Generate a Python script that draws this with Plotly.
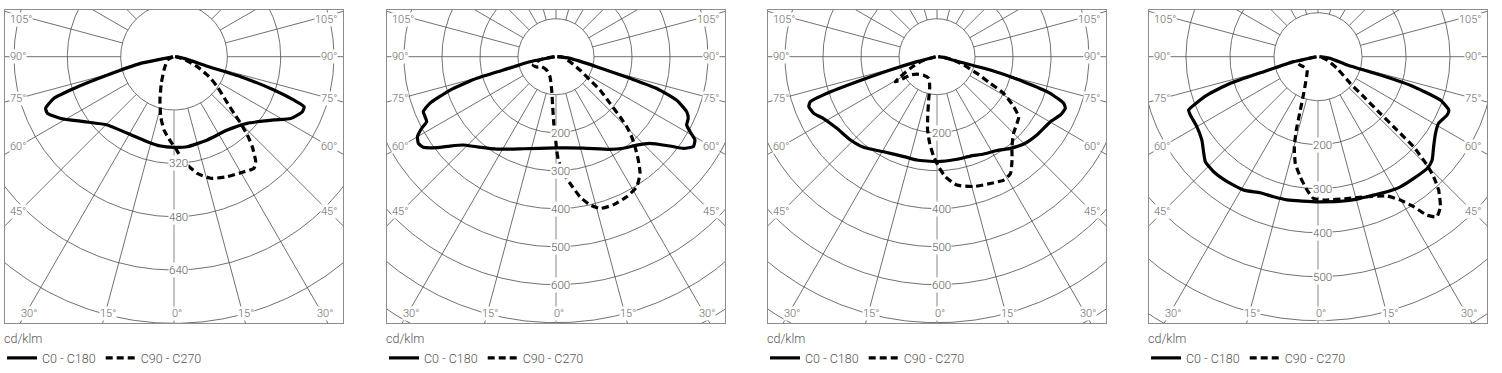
import numpy as np
import plotly.graph_objects as go

# ---------------- data (gamma in degrees from nadir, signed; intensity in cd/klm) -------------
P1_C0_GAMMA = [-90, -79, -78.7, -74.6, -72.4, -70.9, -68.1, -65.9, -61.4, -54.2, -44.3, -31.3, -17.4, -8.5, 0,
               8.4, 21.8, 36, 47.7, 57.7, 62.1, 66.8, 69, 70.1, 71.6, 73.3, 74, 80.5, 90]
P1_C0_I = [3, 51, 102, 207, 315, 381, 415, 416, 387, 333, 286, 269, 267, 271, 272,
           273, 269, 272, 297, 355, 396, 419, 418, 383, 316, 209, 104, 30, 3]
P1_C90_GAMMA = [-90, -63.4, -36.9, -25.4, -17.9, -12.5, -7.8, -2.2, 1, 3.8, 7, 11.3, 16.8, 24, 31.3, 35.6,
                37.9, 41, 43.1, 45, 46.6, 50, 55.3, 60.3, 66.8, 74, 90]
P1_C90_I = [3, 22, 50, 89, 137, 184, 222, 255, 275, 301, 327, 357, 381, 394, 404, 412,
            399, 358, 322, 283, 248, 202, 158, 121, 76, 36, 8]

P2_C0_GAMMA = [-90, -79.1, -75.8, -74.7, -72.5, -69.7, -67.5, -65.4, -63.3, -61.9, -60, -57.8, -55.7, -52.7,
               -49.9, -46.4, -41.4, -32.7, -19.5, 0, 16.7, 30.2, 36.3, 42.4, 47.3, 51.9, 54.3, 56.8, 59.1,
               60.8, 62.4, 65, 67.2, 70.2, 72.5, 73.7, 76.2, 83.2, 90]
P2_C0_I = [3, 70, 143, 216, 292, 354, 378, 379, 381, 401, 421, 428, 423, 395,
           365, 337, 316, 289, 257, 240, 251, 282, 299, 315, 336, 381, 413, 432, 426,
           404, 388, 384, 373, 337, 278, 203, 110, 37, 3]
P2_C90_GAMMA = [-90, -80, -69.8, -62, -55.1, -35, -16.7, -7.4, -3.8, -1.6, -0.2, 0.4, 1.3, 3.6, 6.3, 9.7,
                12.9, 16.2, 21.1, 26.8, 31.8, 35.8, 38.5, 41.3, 43.4, 45.3, 46.8, 49.2, 52.9, 55.5, 60.9,
                70.3, 84.8, 90]
P2_C90_I = [5, 40, 64, 58, 46, 43, 55, 88, 132, 184, 219, 246, 272, 308, 335, 374,
            400, 416, 418, 413, 403, 378, 348, 315, 290, 262, 231, 188, 145, 109, 72,
            39, 19, 5]

P3_C0_GAMMA = [-90, -76, -74.1, -72.6, -71.6, -70.4, -68.7, -65.3, -61.4, -54.4, -46.1, -39, -29.3, -18.4,
               -11, 0, 11, 18.6, 25.6, 32.6, 38.7, 44.8, 51.9, 60.2, 64.7, 68.1, 69.8, 72.1, 73.9, 76,
               77, 84, 90]
P3_C0_I = [3, 54, 128, 221, 305, 354, 362, 357, 340, 324, 316, 307, 287, 277,
           277, 276, 275, 276, 284, 293, 309, 324, 334, 344, 359, 364, 355, 313, 237, 145,
           54, 18, 3]
P3_C90_GAMMA = [-90, -73.3, -66.4, -61.4, -59, -57, -55.5, -49.1, -36, -21, -13.7, -10.9, -8.8, -7.3, -4.8,
                -1.9, 0.9, 4, 8.9, 15.8, 22.8, 28.4, 32.2, 36, 39.8, 45, 50.2, 53.7, 56.9, 61.2, 63.4,
                67.4, 72.6, 78.7, 84, 90]
P3_C90_I = [5, 46, 77, 110, 128, 105, 85, 70, 60, 61, 81, 116, 160, 195, 229,
            263, 290, 317, 342, 355, 362, 369, 363, 336, 308, 285, 274, 267, 241, 200, 157,
            114, 74, 45, 18, 5]

P4_C0_GAMMA = [-90, -78.4, -74.6, -73.1, -70.9, -67.6, -65.4, -60, -54.3, -49.8, -47, -42.2, -36, -29.1,
               -23, -17.6, -12.2, 0, 11.4, 16.6, 21.9, 27.1, 32.3, 38.2, 44.3, 47.8, 52.1, 56.8, 61.1,
               65.7, 67.8, 70.5, 72.6, 73.6, 74, 82.3, 90]
P4_C0_I = [3, 56, 128, 208, 267, 318, 319, 318, 325, 340, 350, 353, 351, 347,
           336, 334, 333, 330, 334, 336, 339, 345, 350, 352, 355, 350, 333, 319, 313,
           322, 321, 295, 228, 148, 69, 28, 3]
P4_C90_GAMMA = [-90, -76.6, -65, -55, -39.5, -22.3, -18.3, -16.5, -14.7, -12, -8.4, -4.7, -1.8, 2.3, 11.6,
                19.3, 26.3, 29.9, 32.5, 34.5, 36.6, 39.2, 42.1, 43.9, 45.2, 46.7, 47.1, 47.7, 48.8, 50.5,
                58.4, 69.7, 90]
P4_C90_I = [5, 49, 45, 40, 39, 82, 128, 174, 212, 248, 276, 304, 322, 326, 329,
            337, 353, 376, 404, 437, 453, 440, 409, 379, 349, 298, 245, 191, 138, 95,
            51, 22, 5]

RING_STEPS = [160, 100, 100, 100]
RING_LABELS = [[320, 480, 640], [200, 300, 400, 500, 600], [200, 400, 500, 600], [200, 300, 400, 500]]
SIDE_ANGLE_TICKS = [105, 90, 75, 60, 45]
BOTTOM_ANGLE_TICKS = [-30, -15, 0, 15, 30]
SERIES_NAMES = ["C0 - C180", "C90 - C270"]
UNIT_LABEL = "cd/klm"

PANELS = [
    (P1_C0_GAMMA, P1_C0_I, P1_C90_GAMMA, P1_C90_I),
    (P2_C0_GAMMA, P2_C0_I, P2_C90_GAMMA, P2_C90_I),
    (P3_C0_GAMMA, P3_C0_I, P3_C90_GAMMA, P3_C90_I),
    (P4_C0_GAMMA, P4_C0_I, P4_C90_GAMMA, P4_C90_I),
]

# ---------------- layout geometry (pixels) ----------------
W, H = 1502, 373
BOX_LEFT = [5, 387, 768, 1149]
BOX_W = 338
BOX_TOP, BOX_BOTTOM = 10, 323
CENTER_Y = 56.7
PX_PER_UNIT = [1 / 3, 0.38, 0.38, 0.44]

FONT = "Roboto, 'Open Sans', sans-serif"
TXT = "#555555"
GRID = "#4d4d4d"
WEIGHT = 300

fig = go.Figure()
annotations = []
layout = {}


def to_xy(gamma_deg, inten):
    g = np.radians(np.asarray(gamma_deg, dtype=float))
    r = np.asarray(inten, dtype=float)
    return r * np.sin(g), -r * np.cos(g)


for i, (g0, i0, g90, i90) in enumerate(PANELS):
    sfx = "" if i == 0 else str(i + 1)
    xa, ya = "x" + sfx, "y" + sfx
    s = PX_PER_UNIT[i]
    left = BOX_LEFT[i]
    right = left + BOX_W
    cx = left + BOX_W / 2
    step = RING_STEPS[i]

    def px2data(px, py, cx=cx, s=s):
        return (px - cx) / s, (CENTER_Y - py) / s

    xr = [(left - cx) / s, (right - cx) / s]
    yr = [(CENTER_Y - BOX_BOTTOM) / s, (CENTER_Y - BOX_TOP) / s]
    axcommon = dict(showgrid=False, zeroline=False, showticklabels=False, ticks="",
                    showline=True, mirror=True, linecolor="#8c8c8c", linewidth=1, fixedrange=True)
    layout["xaxis" + sfx] = dict(domain=[left / W, right / W], range=xr, anchor=ya, **axcommon)
    layout["yaxis" + sfx] = dict(domain=[1 - BOX_BOTTOM / H, 1 - BOX_TOP / H], range=yr, anchor=xa, **axcommon)

    # rings
    rmax = np.hypot(BOX_W / 2, BOX_BOTTOM - CENTER_Y) / s
    nr = int(np.ceil(rmax / step))
    th = np.linspace(0, 2 * np.pi, 721)
    rx, ry = [], []
    for k in range(1, nr + 1):
        rx += list(k * step * np.cos(th)) + [None]
        ry += list(k * step * np.sin(th)) + [None]
    fig.add_trace(go.Scatter(x=rx, y=ry, mode="lines", line=dict(color=GRID, width=0.8),
                             hoverinfo="skip", showlegend=False, xaxis=xa, yaxis=ya))
    # spokes every 15 deg
    sx, sy = [], []
    for a in range(15, 360, 15):
        ax_, ay_ = to_xy([a, a], [step, rmax * 1.5])
        sx += list(ax_) + [None]
        sy += list(ay_) + [None]
    fig.add_trace(go.Scatter(x=sx, y=sy, mode="lines", line=dict(color=GRID, width=0.8),
                             hoverinfo="skip", showlegend=False, xaxis=xa, yaxis=ya))
    zx, zy = to_xy([0, 0], [step, rmax * 1.5])
    fig.add_trace(go.Scatter(x=zx, y=zy, mode="lines", line=dict(color="#9a9a9a", width=1.2),
                             hoverinfo="skip", showlegend=False, xaxis=xa, yaxis=ya))

    # curves
    lg = "legend" if i == 0 else "legend" + str(i + 1)
    x0, y0 = to_xy(g0, i0)
    fig.add_trace(go.Scatter(x=x0, y=y0, mode="lines", name=SERIES_NAMES[0],
                             line=dict(color="black", width=3.2, shape="spline", smoothing=0.5),
                             xaxis=xa, yaxis=ya, legend=lg, hoverinfo="skip"))
    x9, y9 = to_xy(g90, i90)
    fig.add_trace(go.Scatter(x=x9, y=y9, mode="lines", name=SERIES_NAMES[1],
                             line=dict(color="black", width=3.2, dash="7px,4px", shape="spline", smoothing=0.5),
                             xaxis=xa, yaxis=ya, legend=lg, hoverinfo="skip"))

    # ring labels
    for v in RING_LABELS[i]:
        annotations.append(dict(x=0, y=-v, xref=xa, yref=ya, text=str(v), showarrow=False,
                                xshift=4, bgcolor="white", borderpad=0,
                                font=dict(family=FONT, size=11.5, color=TXT, weight=WEIGHT)))

    # angle labels on the sides
    for a in SIDE_ANGLE_TICKS:
        D = BOX_W / 2 - 14
        yy = CENTER_Y + D / np.tan(np.radians(a))
        yy = max(yy, BOX_TOP + 9)
        for side in (-1, 1):
            px = left + 4 if side < 0 else right - 5
            dx, dy = px2data(px, yy)
            annotations.append(dict(x=dx, y=dy, xref=xa, yref=ya, text=f"{a}°", showarrow=False,
                                    xanchor="left" if side < 0 else "right", bgcolor="white", borderpad=0,
                                    font=dict(family=FONT, size=11, color="#666666", weight=WEIGHT)))
    # angle labels along the bottom
    for a in BOTTOM_ANGLE_TICKS:
        yy = BOX_BOTTOM - 10
        px = cx + (yy - CENTER_Y) * np.tan(np.radians(a)) + 3
        dx, dy = px2data(px, yy)
        annotations.append(dict(x=dx, y=dy, xref=xa, yref=ya, text=f"{abs(a)}°", showarrow=False,
                                bgcolor="white", borderpad=0,
                                font=dict(family=FONT, size=11, color="#666666", weight=WEIGHT)))

    layout[lg] = dict(x=(left - 3) / W, y=1 - 327 / H, xanchor="left", yanchor="top", orientation="h",
                      title=dict(text=UNIT_LABEL, side="top",
                                 font=dict(family=FONT, size=12.5, color=TXT, weight=WEIGHT)),
                      font=dict(family=FONT, size=12.5, color=TXT, weight=WEIGHT), bgcolor="rgba(0,0,0,0)",
                      tracegroupgap=0, itemwidth=30, itemclick=False, itemdoubleclick=False)

fig.update_layout(width=W, height=H, margin=dict(l=0, r=0, t=0, b=0, autoexpand=False),
                  paper_bgcolor="white", plot_bgcolor="white", showlegend=True,
                  annotations=annotations, **layout)
fig.write_html("out.html", config={"displayModeBar": False, "staticPlot": False},
               post_script="document.body.style.margin='0px';document.body.style.overflow='hidden';")
